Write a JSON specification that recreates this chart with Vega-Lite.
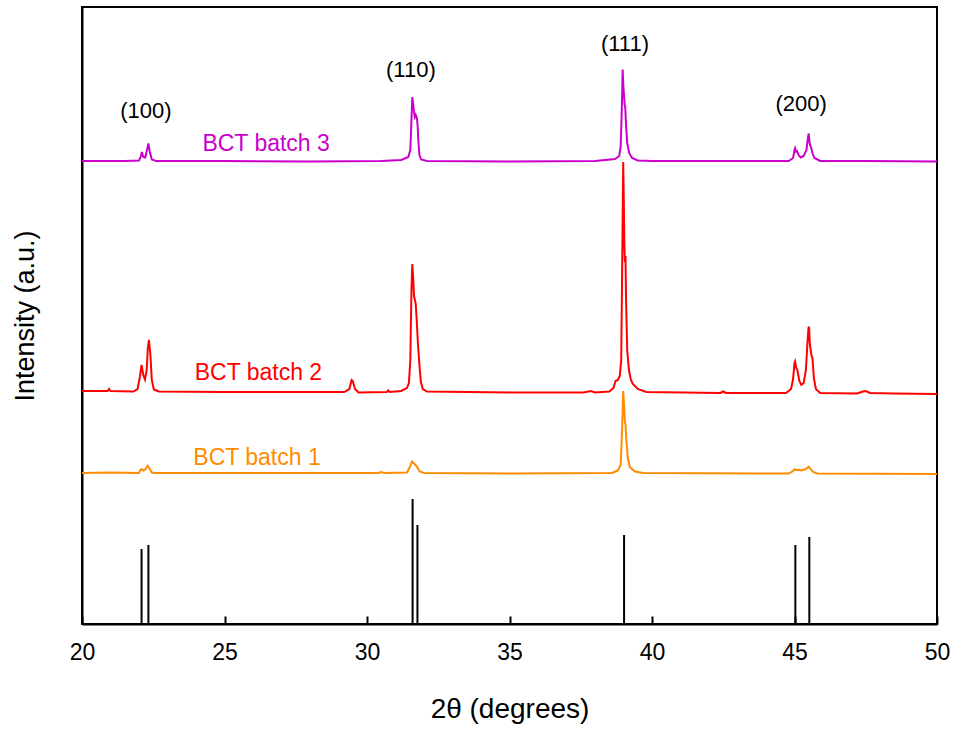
{
  "$schema": "https://vega.github.io/schema/vega-lite/v6.json",
  "width": 855,
  "height": 617,
  "autosize": {"type": "none"},
  "padding": {"left": 82, "top": 7, "right": 16, "bottom": 105},
  "background": "white",
  "config": {
    "view": {"stroke": "black", "strokeWidth": 2},
    "font": "Liberation Sans",
    "axis": {"grid": false, "domainColor": "black", "domainWidth": 2, "tickColor": "black", "labelColor": "black", "titleColor": "black", "labelFont": "Liberation Sans", "titleFont": "Liberation Sans", "titleFontWeight": "normal"}
  },
  "datasets": {
    "patterns": [
      {"series":"BCT batch 3","x":20.0,"p":161},{"series":"BCT batch 3","x":21.5,"p":161},{"series":"BCT batch 3","x":22.0,"p":160.5},{"series":"BCT batch 3","x":22.06,"p":157},{"series":"BCT batch 3","x":22.1,"p":152},{"series":"BCT batch 3","x":22.15,"p":157},{"series":"BCT batch 3","x":22.22,"p":157.5},{"series":"BCT batch 3","x":22.28,"p":150},{"series":"BCT batch 3","x":22.33,"p":143.5},{"series":"BCT batch 3","x":22.38,"p":152},{"series":"BCT batch 3","x":22.45,"p":159.5},{"series":"BCT batch 3","x":22.6,"p":161},{"series":"BCT batch 3","x":25,"p":161},{"series":"BCT batch 3","x":28,"p":161.5},{"series":"BCT batch 3","x":30.5,"p":161},{"series":"BCT batch 3","x":31.2,"p":160},{"series":"BCT batch 3","x":31.45,"p":157},{"series":"BCT batch 3","x":31.52,"p":150},{"series":"BCT batch 3","x":31.56,"p":120},{"series":"BCT batch 3","x":31.59,"p":97},{"series":"BCT batch 3","x":31.62,"p":104},{"series":"BCT batch 3","x":31.66,"p":114},{"series":"BCT batch 3","x":31.68,"p":117},{"series":"BCT batch 3","x":31.71,"p":115},{"series":"BCT batch 3","x":31.75,"p":118},{"series":"BCT batch 3","x":31.78,"p":127},{"series":"BCT batch 3","x":31.8,"p":140},{"series":"BCT batch 3","x":31.84,"p":155},{"series":"BCT batch 3","x":31.9,"p":159.5},{"series":"BCT batch 3","x":32.1,"p":161},{"series":"BCT batch 3","x":35,"p":161.5},{"series":"BCT batch 3","x":38.0,"p":161},{"series":"BCT batch 3","x":38.7,"p":159},{"series":"BCT batch 3","x":38.85,"p":156},{"series":"BCT batch 3","x":38.9,"p":147},{"series":"BCT batch 3","x":38.94,"p":110},{"series":"BCT batch 3","x":38.97,"p":69.5},{"series":"BCT batch 3","x":39.0,"p":88},{"series":"BCT batch 3","x":39.04,"p":105},{"series":"BCT batch 3","x":39.06,"p":107},{"series":"BCT batch 3","x":39.09,"p":125},{"series":"BCT batch 3","x":39.13,"p":143},{"series":"BCT batch 3","x":39.2,"p":153},{"series":"BCT batch 3","x":39.3,"p":158},{"series":"BCT batch 3","x":39.5,"p":160.5},{"series":"BCT batch 3","x":40,"p":161},{"series":"BCT batch 3","x":44.8,"p":161},{"series":"BCT batch 3","x":44.95,"p":158},{"series":"BCT batch 3","x":45.0,"p":150},{"series":"BCT batch 3","x":45.02,"p":148.3},{"series":"BCT batch 3","x":45.05,"p":151.5},{"series":"BCT batch 3","x":45.09,"p":151},{"series":"BCT batch 3","x":45.15,"p":155.5},{"series":"BCT batch 3","x":45.22,"p":157.5},{"series":"BCT batch 3","x":45.32,"p":156},{"series":"BCT batch 3","x":45.42,"p":150},{"series":"BCT batch 3","x":45.47,"p":138},{"series":"BCT batch 3","x":45.5,"p":133.5},{"series":"BCT batch 3","x":45.53,"p":143},{"series":"BCT batch 3","x":45.56,"p":146},{"series":"BCT batch 3","x":45.58,"p":147},{"series":"BCT batch 3","x":45.63,"p":153},{"series":"BCT batch 3","x":45.7,"p":158},{"series":"BCT batch 3","x":45.9,"p":161},{"series":"BCT batch 3","x":47.5,"p":161},{"series":"BCT batch 3","x":50,"p":161.5},

      {"series":"BCT batch 2","x":20.0,"p":391},{"series":"BCT batch 2","x":20.9,"p":391},{"series":"BCT batch 2","x":20.95,"p":389},{"series":"BCT batch 2","x":21.0,"p":391},{"series":"BCT batch 2","x":21.8,"p":391.5},{"series":"BCT batch 2","x":21.95,"p":389},{"series":"BCT batch 2","x":22.03,"p":377},{"series":"BCT batch 2","x":22.09,"p":365},{"series":"BCT batch 2","x":22.15,"p":375},{"series":"BCT batch 2","x":22.21,"p":379.5},{"series":"BCT batch 2","x":22.27,"p":370},{"series":"BCT batch 2","x":22.31,"p":348},{"series":"BCT batch 2","x":22.35,"p":340},{"series":"BCT batch 2","x":22.4,"p":355},{"series":"BCT batch 2","x":22.45,"p":380},{"series":"BCT batch 2","x":22.52,"p":389.5},{"series":"BCT batch 2","x":22.7,"p":391.5},{"series":"BCT batch 2","x":25,"p":392},{"series":"BCT batch 2","x":27,"p":392},{"series":"BCT batch 2","x":29.2,"p":392},{"series":"BCT batch 2","x":29.38,"p":389},{"series":"BCT batch 2","x":29.46,"p":380},{"series":"BCT batch 2","x":29.5,"p":381},{"series":"BCT batch 2","x":29.58,"p":389},{"series":"BCT batch 2","x":29.7,"p":392.5},{"series":"BCT batch 2","x":30.7,"p":392},{"series":"BCT batch 2","x":30.75,"p":390.5},{"series":"BCT batch 2","x":30.8,"p":392},{"series":"BCT batch 2","x":31.2,"p":391},{"series":"BCT batch 2","x":31.4,"p":388},{"series":"BCT batch 2","x":31.47,"p":383},{"series":"BCT batch 2","x":31.52,"p":360},{"series":"BCT batch 2","x":31.56,"p":290},{"series":"BCT batch 2","x":31.59,"p":264},{"series":"BCT batch 2","x":31.62,"p":278},{"series":"BCT batch 2","x":31.65,"p":296},{"series":"BCT batch 2","x":31.68,"p":300},{"series":"BCT batch 2","x":31.71,"p":304},{"series":"BCT batch 2","x":31.74,"p":318},{"series":"BCT batch 2","x":31.79,"p":345},{"series":"BCT batch 2","x":31.84,"p":365},{"series":"BCT batch 2","x":31.89,"p":382},{"series":"BCT batch 2","x":31.96,"p":389},{"series":"BCT batch 2","x":32.1,"p":391.5},{"series":"BCT batch 2","x":35,"p":392.5},{"series":"BCT batch 2","x":37.6,"p":392.5},{"series":"BCT batch 2","x":37.86,"p":391},{"series":"BCT batch 2","x":38.0,"p":392.5},{"series":"BCT batch 2","x":38.5,"p":391.5},{"series":"BCT batch 2","x":38.65,"p":388},{"series":"BCT batch 2","x":38.72,"p":381},{"series":"BCT batch 2","x":38.8,"p":380},{"series":"BCT batch 2","x":38.87,"p":376},{"series":"BCT batch 2","x":38.92,"p":360},{"series":"BCT batch 2","x":38.96,"p":250},{"series":"BCT batch 2","x":38.99,"p":162},{"series":"BCT batch 2","x":39.01,"p":200},{"series":"BCT batch 2","x":39.03,"p":245},{"series":"BCT batch 2","x":39.05,"p":262},{"series":"BCT batch 2","x":39.07,"p":256},{"series":"BCT batch 2","x":39.09,"p":300},{"series":"BCT batch 2","x":39.13,"p":350},{"series":"BCT batch 2","x":39.19,"p":370},{"series":"BCT batch 2","x":39.26,"p":380},{"series":"BCT batch 2","x":39.33,"p":384},{"series":"BCT batch 2","x":39.5,"p":389},{"series":"BCT batch 2","x":39.8,"p":392},{"series":"BCT batch 2","x":42.4,"p":393},{"series":"BCT batch 2","x":42.5,"p":391.5},{"series":"BCT batch 2","x":42.6,"p":393},{"series":"BCT batch 2","x":44.7,"p":393},{"series":"BCT batch 2","x":44.88,"p":389},{"series":"BCT batch 2","x":44.95,"p":379},{"series":"BCT batch 2","x":45.0,"p":363},{"series":"BCT batch 2","x":45.02,"p":361.5},{"series":"BCT batch 2","x":45.06,"p":368},{"series":"BCT batch 2","x":45.1,"p":370},{"series":"BCT batch 2","x":45.17,"p":381},{"series":"BCT batch 2","x":45.24,"p":385},{"series":"BCT batch 2","x":45.32,"p":383},{"series":"BCT batch 2","x":45.4,"p":370},{"series":"BCT batch 2","x":45.45,"p":345},{"series":"BCT batch 2","x":45.49,"p":328},{"series":"BCT batch 2","x":45.51,"p":326.7},{"series":"BCT batch 2","x":45.54,"p":345},{"series":"BCT batch 2","x":45.6,"p":356},{"series":"BCT batch 2","x":45.63,"p":358},{"series":"BCT batch 2","x":45.68,"p":378},{"series":"BCT batch 2","x":45.75,"p":389},{"series":"BCT batch 2","x":45.9,"p":393},{"series":"BCT batch 2","x":47.2,"p":393.5},{"series":"BCT batch 2","x":47.4,"p":391.5},{"series":"BCT batch 2","x":47.5,"p":391},{"series":"BCT batch 2","x":47.65,"p":393},{"series":"BCT batch 2","x":48.5,"p":393.5},{"series":"BCT batch 2","x":50,"p":394},

      {"series":"BCT batch 1","x":20,"p":473},{"series":"BCT batch 1","x":21.0,"p":472.5},{"series":"BCT batch 1","x":22.0,"p":473},{"series":"BCT batch 1","x":22.05,"p":470},{"series":"BCT batch 1","x":22.09,"p":469.3},{"series":"BCT batch 1","x":22.15,"p":470.5},{"series":"BCT batch 1","x":22.22,"p":469.5},{"series":"BCT batch 1","x":22.3,"p":465.7},{"series":"BCT batch 1","x":22.36,"p":468},{"series":"BCT batch 1","x":22.45,"p":472.5},{"series":"BCT batch 1","x":22.6,"p":473},{"series":"BCT batch 1","x":25,"p":473},{"series":"BCT batch 1","x":30.4,"p":473},{"series":"BCT batch 1","x":30.5,"p":472},{"series":"BCT batch 1","x":30.6,"p":473},{"series":"BCT batch 1","x":31.4,"p":472.5},{"series":"BCT batch 1","x":31.52,"p":466},{"series":"BCT batch 1","x":31.58,"p":461.5},{"series":"BCT batch 1","x":31.63,"p":463},{"series":"BCT batch 1","x":31.7,"p":465},{"series":"BCT batch 1","x":31.76,"p":467},{"series":"BCT batch 1","x":31.85,"p":471.5},{"series":"BCT batch 1","x":32.0,"p":473},{"series":"BCT batch 1","x":35,"p":473.5},{"series":"BCT batch 1","x":38.6,"p":473},{"series":"BCT batch 1","x":38.8,"p":470.5},{"series":"BCT batch 1","x":38.9,"p":465},{"series":"BCT batch 1","x":38.95,"p":430},{"series":"BCT batch 1","x":38.99,"p":391},{"series":"BCT batch 1","x":39.02,"p":405},{"series":"BCT batch 1","x":39.05,"p":423},{"series":"BCT batch 1","x":39.07,"p":424},{"series":"BCT batch 1","x":39.1,"p":440},{"series":"BCT batch 1","x":39.15,"p":458},{"series":"BCT batch 1","x":39.22,"p":467},{"series":"BCT batch 1","x":39.4,"p":471.5},{"series":"BCT batch 1","x":39.7,"p":473},{"series":"BCT batch 1","x":44.8,"p":473.5},{"series":"BCT batch 1","x":44.95,"p":471},{"series":"BCT batch 1","x":45.0,"p":469.3},{"series":"BCT batch 1","x":45.05,"p":470},{"series":"BCT batch 1","x":45.15,"p":469.8},{"series":"BCT batch 1","x":45.25,"p":470.5},{"series":"BCT batch 1","x":45.4,"p":469},{"series":"BCT batch 1","x":45.5,"p":466.7},{"series":"BCT batch 1","x":45.56,"p":469},{"series":"BCT batch 1","x":45.65,"p":472},{"series":"BCT batch 1","x":45.8,"p":473.5},{"series":"BCT batch 1","x":50,"p":474}
    ],
    "sticks": [
      {"x":22.09,"h":75},{"x":22.33,"h":79},{"x":31.6,"h":125},{"x":31.77,"h":99},{"x":39.02,"h":89},{"x":45.03,"h":79},{"x":45.52,"h":87}
    ],
    "serieslabels": [
      {"series":"BCT batch 3","x":26.46,"y":473.5},
      {"series":"BCT batch 2","x":26.19,"y":244},
      {"series":"BCT batch 1","x":26.14,"y":159}
    ],
    "peaks": [
      {"label":"(100)","x":22.24,"y":506},
      {"label":"(110)","x":31.54,"y":547},
      {"label":"(111)","x":39.05,"y":573},
      {"label":"(200)","x":45.23,"y":513}
    ]
  },
  "layer": [
    {
      "data": {"name": "patterns"},
      "transform": [{"calculate": "624 - datum.p", "as": "y"}],
      "mark": {"type": "line", "strokeWidth": 2, "clip": true},
      "encoding": {
        "x": {"field": "x", "type": "quantitative", "scale": {"domain": [20, 50], "nice": false},
          "axis": {"values": [20,25,30,35,40,45,50], "tickSize": -8, "tickWidth": 2, "labelFontSize": 23, "labelPadding": 25, "labelFlush": false, "title": "2θ (degrees)", "titleFontSize": 28, "titlePadding": 31}},
        "y": {"field": "y", "type": "quantitative", "scale": {"domain": [0, 617], "nice": false},
          "axis": {"labels": false, "ticks": false, "title": "Intensity (a.u.)", "titleFontSize": 27, "titlePadding": 43}},
        "color": {"field": "series", "type": "nominal", "legend": null,
          "scale": {"domain": ["BCT batch 1","BCT batch 2","BCT batch 3"], "range": ["#FF8C00","#FF0000","#CC00CC"]}}
      }
    },
    {
      "data": {"name": "sticks"},
      "transform": [{"calculate": "0", "as": "base"}],
      "mark": {"type": "rule", "strokeWidth": 2, "color": "black"},
      "encoding": {
        "x": {"field": "x", "type": "quantitative"},
        "y": {"field": "base", "type": "quantitative"},
        "y2": {"field": "h"}
      }
    },
    {
      "data": {"name": "serieslabels"},
      "mark": {"type": "text", "fontSize": 23, "align": "center", "baseline": "alphabetic", "font": "Liberation Sans"},
      "encoding": {
        "x": {"field": "x", "type": "quantitative"},
        "y": {"field": "y", "type": "quantitative"},
        "text": {"field": "series"},
        "color": {"field": "series", "type": "nominal", "legend": null}
      }
    },
    {
      "data": {"name": "peaks"},
      "mark": {"type": "text", "fontSize": 22, "align": "center", "baseline": "alphabetic", "color": "black", "font": "Liberation Sans"},
      "encoding": {
        "x": {"field": "x", "type": "quantitative"},
        "y": {"field": "y", "type": "quantitative"},
        "text": {"field": "label"}
      }
    }
  ]
}
